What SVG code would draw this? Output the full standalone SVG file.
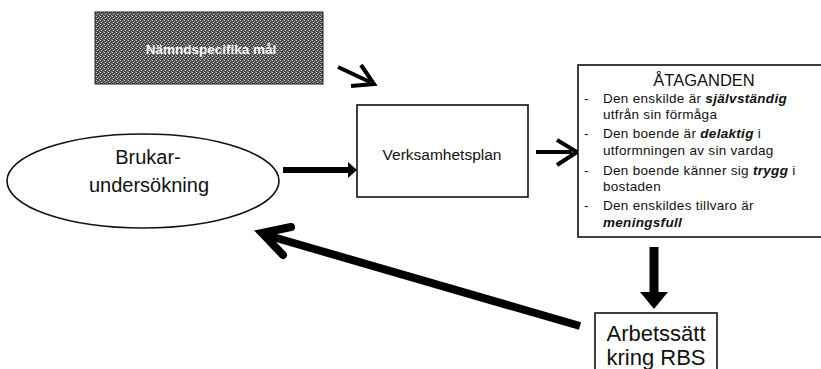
<svg xmlns="http://www.w3.org/2000/svg" width="821" height="369" viewBox="0 0 821 369">
<style>
.box{fill:#fff;stroke:#111;stroke-width:1.6}
.t{font-family:"Liberation Sans",Arial,sans-serif;fill:#111}
.li{font-size:13.5px;letter-spacing:0.3px}
.em{font-weight:bold;font-style:italic}
.ln{stroke:#000;fill:none}
</style>
<defs>
<pattern id="dither" width="4" height="4" patternUnits="userSpaceOnUse">
<rect width="4" height="4" fill="#444"/>
<rect x="0" y="0" width="1" height="1" fill="#d0d0d0"/>
<rect x="2" y="1" width="1" height="1" fill="#a8a8a8"/>
<rect x="1" y="2" width="1" height="1" fill="#d8d8d8"/>
<rect x="3" y="3" width="1" height="1" fill="#999"/>
<rect x="3" y="0" width="1" height="1" fill="#777"/>
<rect x="0" y="2" width="1" height="1" fill="#6a6a6a"/>
</pattern>
</defs>
<rect width="821" height="369" fill="#fff"/>

<g id="connectors">
<line class="ln" x1="338" y1="67" x2="370" y2="82" stroke-width="4"/>
<polyline class="ln" points="361,65 374,84 351,86" stroke-width="4"/>
<line class="ln" x1="283" y1="170" x2="350" y2="170" stroke-width="6"/>
<polygon points="348,162 357,170 348,178" fill="#000"/>
<line class="ln" x1="536" y1="152" x2="572" y2="152" stroke-width="4"/>
<polyline class="ln" points="557,140 577,152 557,165" stroke-width="4"/>
<line class="ln" x1="654" y1="247" x2="654" y2="293" stroke-width="9"/>
<polygon points="640,292 668,292 654,309" fill="#000"/>
<line class="ln" x1="580" y1="326" x2="266" y2="235" stroke-width="8"/>
<polyline class="ln" points="291,227 262,233 283,255" stroke-width="8" stroke-linecap="round" stroke-linejoin="miter"/>
</g>

<g id="namndspecifika">
<rect x="95" y="12" width="228" height="72" fill="url(#dither)" stroke="#222" stroke-width="1"/>
<text class="t" x="211" y="54" font-size="13.5" font-weight="bold" style="fill:#fff" text-anchor="middle">Nämndspecifika mål</text>
</g>

<g id="brukar">
<ellipse cx="143" cy="181" rx="136" ry="47" class="box" stroke-width="1.2"/>
<text class="t" x="148" y="164" font-size="20" text-anchor="middle">Brukar-</text>
<text class="t" x="149" y="192" font-size="20" text-anchor="middle">undersökning</text>
</g>

<g id="verksamhetsplan">
<rect x="357" y="105" width="171" height="92" class="box"/>
<text class="t" x="442" y="160" font-size="15.5" text-anchor="middle">Verksamhetsplan</text>
</g>

<g id="ataganden">
<rect x="578" y="65" width="260" height="172" class="box"/>
<text class="t" x="704" y="86" font-size="16.5" text-anchor="middle">ÅTAGANDEN</text>
<g class="t li">
<text x="584" y="103">-</text>
<text x="603" y="103">Den enskilde är <tspan class="em">självständig</tspan></text>
<text x="603" y="119">utfrån sin förmåga</text>
<text x="584" y="138">-</text>
<text x="603" y="138">Den boende är <tspan class="em">delaktig</tspan> i</text>
<text x="603" y="155">utformningen av sin vardag</text>
<text x="584" y="175">-</text>
<text x="603" y="175">Den boende känner sig <tspan class="em">trygg</tspan> i</text>
<text x="603" y="191">bostaden</text>
<text x="584" y="210">-</text>
<text x="603" y="210">Den enskildes tillvaro är</text>
<text x="603" y="227" class="em">meningsfull</text>
</g>
</g>

<g id="arbetssatt">
<rect x="595" y="313" width="122" height="70" class="box"/>
<text class="t" x="656" y="341" font-size="22" text-anchor="middle">Arbetssätt</text>
<text class="t" x="656" y="365" font-size="22" text-anchor="middle">kring RBS</text>
</g>
</svg>
